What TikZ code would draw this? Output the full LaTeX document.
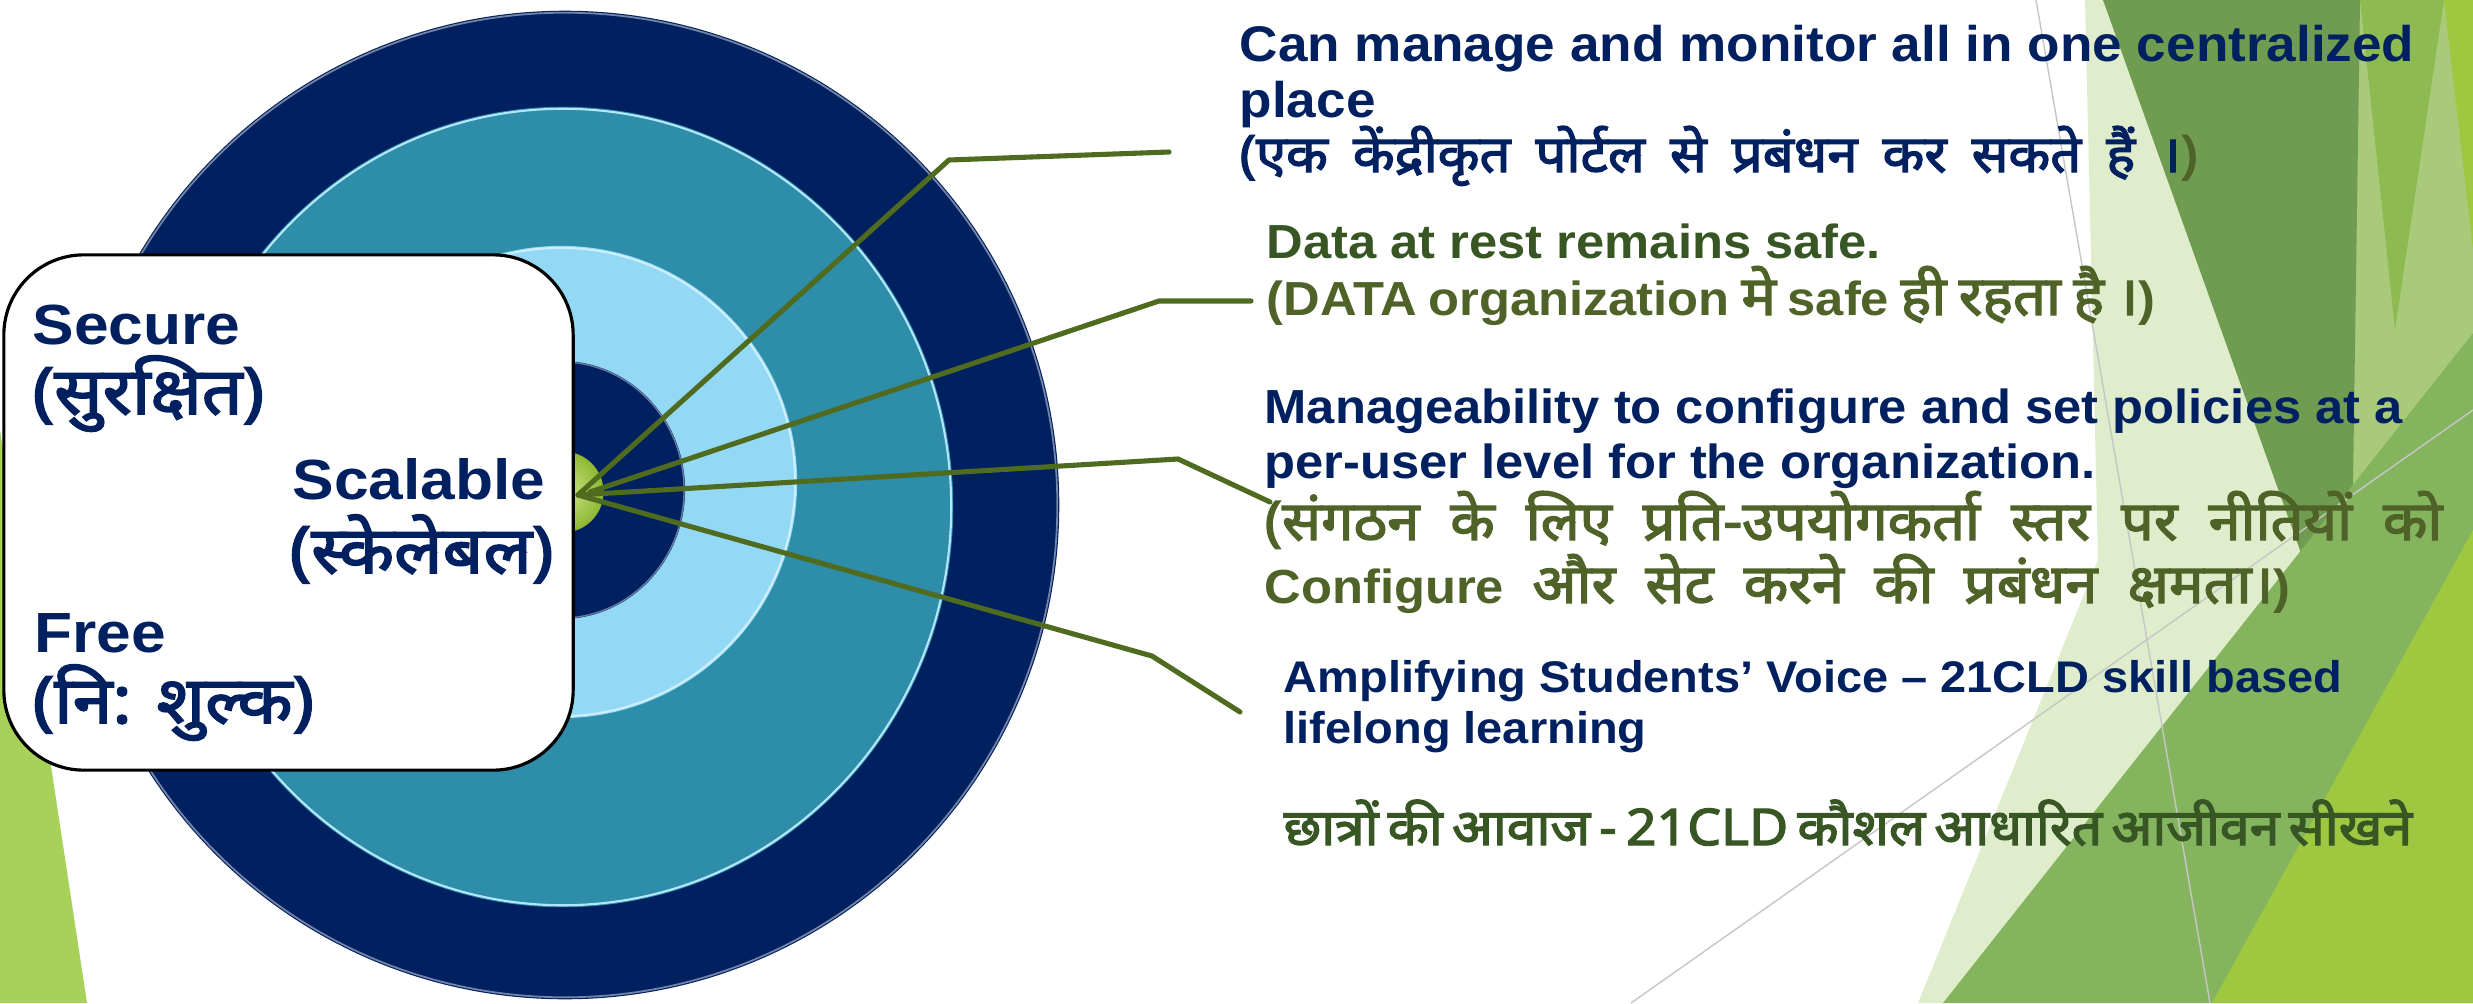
\documentclass[tikz,border=0pt]{standalone}
\usepackage{fontspec}
\setmainfont[FakeStretch=1.06]{Liberation Sans}
\newfontfamily\hindi[Script=Devanagari,FakeStretch=1.06,Scale=1.14,
  BoldFont=*,BoldFeatures={FakeBold=2.6}]{Noto Sans}
\newfontfamily\boxfont[FakeStretch=1.1]{Liberation Sans}
\newfontfamily\boxhindi[Script=Devanagari,FakeStretch=1.1,Scale=1.15,
  BoldFont=*,BoldFeatures={FakeBold=2.6}]{Noto Sans}

\definecolor{navy}{HTML}{002060}
\definecolor{ringteal}{HTML}{2E8DA8}
\definecolor{ringsky}{HTML}{93D9F6}
\definecolor{olive}{HTML}{4F6228}
\definecolor{leaf}{HTML}{375623}
\definecolor{wire}{HTML}{4F6B1F}
\definecolor{facetpale}{HTML}{DFEDCD}
\definecolor{facetsoft}{HTML}{A9CA7A}
\definecolor{facetdark}{HTML}{6F9C50}
\definecolor{facetolive}{HTML}{8DBB52}
\definecolor{facetmid}{HTML}{84B55E}
\definecolor{facetlime}{HTML}{9DC840}
\definecolor{facetleft}{HTML}{A7D158}
\definecolor{bullhi}{HTML}{CFE68A}
\definecolor{bulllo}{HTML}{8DB832}

\newcommand\sizeA{\fontsize{14.25pt}{17pt}\selectfont}
\newcommand\sizeB{\fontsize{13.6pt}{16pt}\selectfont}
\newcommand\sizeC{\fontsize{12.6pt}{15pt}\selectfont}
\newcommand\sizeD{\fontsize{16.1pt}{19pt}\selectfont}
\newcommand\sizeE{\fontsize{12.8pt}{15pt}\selectfont}

\tikzset{
  wire/.style={draw=wire, line width=1.45pt, line cap=round, line join=round},
  txt/.style={anchor=base west, inner sep=0pt, font=\bfseries},
  panel/.style={draw=black, line width=0.9pt, fill=white, rounded corners=0.8cm,
    minimum width=5.69cm, minimum height=5.15cm, inner sep=0pt},
  gridline/.style={draw=gray!45, line width=0.4pt}
}

\begin{document}
\begin{tikzpicture}[x=0.01cm, y=-0.01cm]
    \useasboundingbox (0,0) rectangle (2473,1003);

    % facet background
    \fill[facetleft] (0,430) -- (87,1003) -- (0,1003) -- cycle;
    \fill[facetpale] (2085,0) -- (2473,0) -- (2473,1003) -- (1918,1003) -- (2098,560) -- cycle;
    \fill[facetsoft] (2300,0) -- (2473,0) -- (2473,760) -- (2350,690) -- cycle;
    \fill[facetdark] (2103,0) -- (2360,0) -- (2350,690) -- cycle;
    \fill[facetolive] (2360,0) -- (2444,0) -- (2395,330) -- cycle;
    \fill[facetmid] (1943,1003) -- (2473,333) -- (2473,1003) -- cycle;
    \fill[facetlime] (2212,1003) -- (2473,530) -- (2473,1003) -- cycle;
    \fill[facetlime] (2444,0) -- (2473,0) -- (2473,250) -- cycle;
    \draw[gridline] (2036,0) -- (2210,1003);
    \draw[gridline] (1631,1003) -- (2473,410);

    % target rings
    \fill[navy] (565,505) ellipse [x radius=4.94cm, y radius=4.94cm];
    \draw[navy!55!white, line width=0.5pt] (565,505) ellipse [x radius=4.92cm, y radius=4.92cm];
    \fill[ringteal] (563,507) ellipse [x radius=3.9cm, y radius=4cm];
    \draw[cyan!30!white, line width=0.6pt] (563,507) ellipse [x radius=3.88cm, y radius=3.98cm];
    \fill[ringsky] (561,482) ellipse [x radius=2.36cm, y radius=2.36cm];
    \draw[white!80!cyan, line width=0.6pt] (561,482) ellipse [x radius=2.34cm, y radius=2.34cm];
    \fill[navy] (561,490) ellipse [x radius=1.24cm, y radius=1.29cm];
    \draw[navy!60!white, line width=0.4pt] (561,490) ellipse [x radius=1.23cm, y radius=1.28cm];
    \node[circle, minimum size=0.81cm, inner sep=0pt, inner color=bullhi,
          outer color=bulllo, shading=radial] (bull) at (563,492) {};

    % feature panel
    \node[panel] (card) at (288.5,512.5) {};
    \node[txt, text=navy, font=\bfseries\boxfont\sizeD] (secure) at (32,344) {Secure};
    \node[txt, text=navy, font=\bfseries\boxhindi\sizeD] (secureh) at (32,414) {(सुरक्षित)};
    \node[txt, text=navy, font=\bfseries\boxfont\sizeD] (scal) at (292,499) {Scalable};
    \node[txt, text=navy, font=\bfseries\boxhindi\sizeD] (scalh) at (289,573) {(स्केलेबल)};
    \node[txt, text=navy, font=\bfseries\boxfont\sizeD] (free) at (34,652) {Free};
    \node[txt, text=navy, font=\bfseries\boxhindi\sizeD] (freeh) at (32,723) {(नि: शुल्क)};

    % callout wires
    \coordinate (hub) at (578,495);
    \coordinate (hub2) at (590,492);
    \coordinate (k1) at (949,160);
    \coordinate (t1) at (1169,152);
    \coordinate (k2) at (1159,301);
    \coordinate (t2) at (1251,301);
    \coordinate (k3) at (1178,459);
    \coordinate (t3) at (1270,502);
    \coordinate (k4) at (1152,656);
    \coordinate (t4) at (1240,712);
    \draw[wire] (hub) -- (k1) -- (t1);
    \draw[wire] (hub2) -- (k2) -- (t2);
    \draw[wire] (hub) -- (k3) -- (t3);
    \draw[wire] (hub) -- (k4) -- (t4);

    % callout texts
    \node[txt, text=navy, font=\bfseries\sizeA] (c1a) at (1239,61) {Can manage and monitor all in one centralized};
    \node[txt, text=navy, font=\bfseries\sizeA] (c1b) at (1239,117) {place};
    \node[txt, text=navy, font=\bfseries\hindi\sizeE] (c1c) at (1239,172)
        {\makebox[9.57cm][s]{(एक केंद्रीकृत पोर्टल से प्रबंधन कर सकते हैं ।\textcolor{olive}{)}}};

    \node[txt, text=leaf, font=\bfseries\sizeB] (c2a) at (1266,258) {Data at rest remains safe.};
    \node[txt, text=olive, font=\bfseries\sizeB] (c2b) at (1266,315)
        {\makebox[8.88cm][s]{(DATA organization {\hindi मे} safe {\hindi ही रहता है ।})}};

    \node[txt, text=navy, font=\bfseries\sizeB] (c3a) at (1264,423) {Manageability to configure and set policies at a};
    \node[txt, text=navy, font=\bfseries\sizeB] (c3b) at (1264,478) {per-user level for the organization.};
    \node[txt, text=olive, font=\bfseries\hindi\sizeB] (c3c) at (1264,540)
        {\makebox[11.77cm][s]{(संगठन के लिए प्रति-उपयोगकर्ता स्तर पर नीतियों को}};
    \node[txt, text=olive, font=\bfseries\sizeB] (c3d) at (1264,603)
        {\makebox[10.25cm][s]{Configure {\hindi और सेट करने की प्रबंधन क्षमता।})}};

    \node[txt, text=navy, font=\bfseries\sizeC] (c4a) at (1283,692) {Amplifying Students’ Voice – 21CLD skill based};
    \node[txt, text=navy, font=\bfseries\sizeC] (c4b) at (1283,743) {lifelong learning};
    \node[txt, text=leaf, font=\bfseries\hindi\sizeC] (c4c) at (1283,845)
        {\makebox[11.12cm][s]{छात्रों की आवाज - 21CLD कौशल आधारित आजीवन सीखने}};
\end{tikzpicture}
\end{document}
